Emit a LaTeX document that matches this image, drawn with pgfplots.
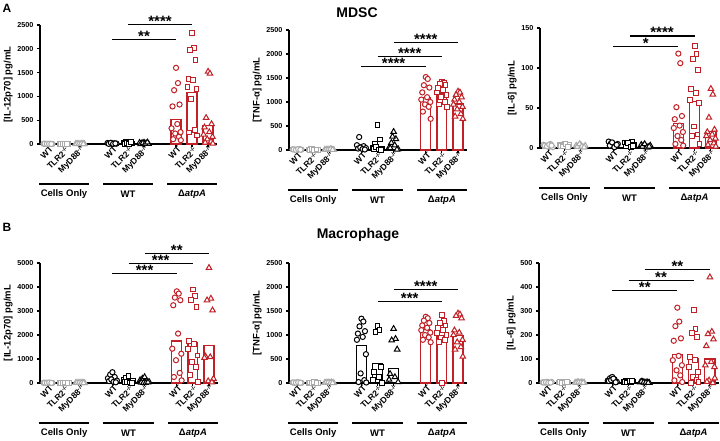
\documentclass[border=0pt]{standalone}
\usepackage{fontspec}
\setmainfont{Liberation Sans}
\usepackage{pgfplots}
\pgfplotsset{compat=1.18}
\definecolor{cgray}{RGB}{170,170,170}
\definecolor{cred}{RGB}{192,32,38}
\newcommand{\fs}[1]{\fontsize{#1}{#1}\selectfont\bfseries}

\pgfplotsset{
  panel/.style={
    scale only axis, width=178pt, height=120pt,
    axis x line=bottom, axis y line=left,
    axis line style={-, line width=1.1pt},
    xmin=-0.5, xmax=10.56, ymin=0,
    clip=false,
    xtick={0,1,2,4,5,6,8,9,10},
    xticklabels={WT,TLR2\textsuperscript{-/-},MyD88\textsuperscript{-/-},WT,TLR2\textsuperscript{-/-},MyD88\textsuperscript{-/-},WT,TLR2\textsuperscript{-/-},MyD88\textsuperscript{-/-}},
    x tick label style={rotate=45, anchor=east, font=\fs{8.5}, inner sep=1pt, yshift=-3pt, xshift=3pt},
    y tick label style={font=\fs{7.2}},
    /pgf/number format/assume math mode=true,
    /pgf/number format/1000 sep={},
    tick align=outside, major tick length=3pt,
    every tick/.style={black, line width=1.1pt},
    ylabel style={font=\fs{9.5}, yshift=-2pt},
  },
  gpt/.style={only marks, mark size=2.6pt, line width=1pt, mark options={solid, fill=white}},
  mc/.style={mark=*},
  ms/.style={mark=square*, mark size=2.4pt},
  mt/.style={mark=triangle*, mark size=3.2pt},
  gbar/.style={ybar, bar width=0.62, bar shift=0pt, fill=none, line width=1.2pt},
}
\newcommand{\col}[2]{\addplot[gpt, #1] coordinates {#2};}
\newcommand{\sig}[4]{\draw[line width=1.2pt] (axis cs:#1,#3) -- node[above, inner sep=0pt, yshift=-2.5pt, font=\fs{15}] {#4} (axis cs:#2,#3);}
\newcommand{\groups}{%
  \draw[line width=1.2pt] ([yshift=-40pt]axis cs:-0.56,0) -- ([yshift=-40pt]axis cs:2.56,0);
  \draw[line width=1.2pt] ([yshift=-40pt]axis cs:3.44,0) -- ([yshift=-40pt]axis cs:6.56,0);
  \draw[line width=1.2pt] ([yshift=-40pt]axis cs:7.44,0) -- ([yshift=-40pt]axis cs:10.56,0);
  \node[font=\fs{9.5}] at ([yshift=-50pt]axis cs:1,0) {Cells Only};
  \node[font=\fs{9.5}] at ([yshift=-50pt]axis cs:5,0) {WT};
  \node[font=\fs{9.5}] at ([yshift=-50pt]axis cs:9,0) {Δ\textit{atpA}};
}

\begin{document}
\begin{tikzpicture}

% ---------- A: MDSC, IL-12p70
\begin{axis}[panel, at={(40pt,296pt)}, anchor=south west, height=119pt, width=177pt,
  ymax=2500, ytick={0,500,...,2500}, ylabel={[IL-12p70] pg/mL}]
\addplot[gbar, draw=cgray] coordinates {(0,3)(1,3)(2,3)};
\addplot[gbar, draw=black] coordinates {(4,12)(5,25)(6,17)};
\addplot[gbar, draw=cred] coordinates {(8,520)(9,1090)(10,390)};
\col{cgray,mc}{(-0.28,5)(-0.14,3)(0,2)(0.14,4)(0.28,1)(-0.21,6)(-0.07,2)(0.07,3)(0.21,0)}
\col{cgray,ms}{(0.72,4)(0.86,2)(1,5)(1.14,3)(1.28,1)(0.79,2)(0.93,6)(1.07,0)(1.21,3)}
\col{cgray,mt}{(1.72,3)(1.86,5)(2,2)(2.14,4)(2.28,1)(1.79,0)(1.93,3)(2.07,6)(2.21,2)}
\col{black,mc}{(3.72,20)(3.86,10)(4,5)(4.14,15)(4.28,8)(3.79,3)(3.93,25)(4.07,2)(4.21,12)}
\col{black,ms}{(4.72,30)(4.86,50)(5,20)(5.14,40)(5.28,10)(4.79,5)(4.93,15)(5.07,0)(5.21,45)}
\col{black,mt}{(5.72,25)(5.86,15)(6,30)(6.14,10)(6.28,5)(5.79,0)(5.93,20)(6.07,8)(6.21,35)}
\col{cred,mc}{(8,1600)(8.12,1280)(7.88,1130)(8.22,830)(7.78,790)(8.08,420)(7.72,330)(8.28,250)(7.95,220)(8.18,150)(7.82,100)(8.3,80)}
\col{cred,ms}{(9,2330)(9.12,2010)(8.88,1980)(9.22,1760)(8.78,1370)(9.08,1340)(8.72,1200)(9.28,1150)(8.95,940)(9.18,300)(8.82,240)(9.3,180)}
\col{cred,mt}{(10,1520)(10.12,1480)(9.88,550)(10.22,420)(9.78,350)(10.08,250)(9.72,200)(10.28,150)(9.95,100)(10.18,50)(9.82,30)(10.3,10)}
\sig{4}{8}{2200}{**}
\sig{5}{9}{2510}{****}
\groups
\end{axis}

% ---------- A: MDSC, TNF
\begin{axis}[panel, at={(289pt,290pt)}, anchor=south west,
  ymax=2500, ytick={0,500,...,2500}, ylabel={[TNF-α] pg/mL}]
\addplot[gbar, draw=cgray] coordinates {(0,8)(1,8)(2,8)};
\addplot[gbar, draw=black] coordinates {(4,80)(5,80)(6,70)};
\addplot[gbar, draw=cred] coordinates {(8,1090)(9,1170)(10,960)};
\col{cgray,mc}{(-0.28,15)(-0.14,10)(0,5)(0.14,20)(0.28,8)(-0.21,12)(-0.07,3)(0.07,18)(0.21,6)}
\col{cgray,ms}{(0.72,10)(0.86,15)(1,5)(1.14,12)(1.28,3)(0.79,8)(0.93,18)(1.07,6)(1.21,10)}
\col{cgray,mt}{(1.72,8)(1.86,12)(2,4)(2.14,15)(2.28,6)(1.79,3)(1.93,10)(2.07,18)(2.21,5)}
\col{black,mc}{(3.72,100)(3.86,270)(4,60)(4.14,80)(4.28,40)(3.79,30)(3.93,50)(4.07,20)(4.21,10)}
\col{black,ms}{(4.72,40)(4.86,130)(5,520)(5.14,220)(5.28,30)(4.79,20)(4.93,60)(5.07,10)(5.21,5)}
\col{black,mt}{(5.72,50)(5.86,150)(6,380)(6.14,230)(6.28,20)(5.79,40)(5.93,280)(6.07,100)(6.21,10)}
\col{cred,mc}{(8,1520)(8.12,1480)(7.88,1350)(8.22,1300)(7.78,1200)(8.08,1100)(7.72,1050)(8.28,1000)(7.95,950)(8.18,900)(7.82,800)(8.3,650)}
\col{cred,ms}{(9,1420)(9.12,1400)(8.88,1380)(9.22,1350)(8.78,1300)(9.08,1250)(8.72,1200)(9.28,1150)(8.95,1100)(9.18,1000)(8.82,950)(9.3,900)}
\col{cred,mt}{(10,1220)(10.12,1200)(9.88,1150)(10.22,1100)(9.78,1050)(10.08,1000)(9.72,950)(10.28,900)(9.95,850)(10.18,750)(9.82,700)(10.3,650)}
\sig{4}{8}{1733}{****}
\sig{5}{9}{1956}{****}
\sig{6}{10}{2234}{****}
\groups
\end{axis}

% ---------- A: MDSC, IL-6
\begin{axis}[panel, at={(540pt,292pt)}, anchor=south west, width=180pt,
  ymax=150, ytick={0,50,100,150}, ylabel={[IL-6] pg/mL}]
\addplot[gbar, draw=cgray] coordinates {(0,3)(1,3)(2,2.5)};
\addplot[gbar, draw=black] coordinates {(4,4)(5,4)(6,2.5)};
\addplot[gbar, draw=cred] coordinates {(8,31)(9,58)(10,21)};
\col{cgray,mc}{(-0.28,4)(-0.14,3)(0,2)(0.14,5)(0.28,1)(-0.21,3)(-0.07,2)(0.07,4)(0.21,3)}
\col{cgray,ms}{(0.72,4)(0.86,3)(1,5)(1.14,2)(1.28,4)(0.79,3)(0.93,2)(1.07,5)(1.21,1)}
\col{cgray,mt}{(1.72,3)(1.86,2)(2,4)(2.14,1)(2.28,3)(1.79,2)(1.93,5)(2.07,2)(2.21,1)}
\col{black,mc}{(3.72,8)(3.86,6)(4,4)(4.14,2)(4.28,5)(3.79,3)(3.93,7)(4.07,1)(4.21,4)}
\col{black,ms}{(4.72,7)(4.86,5)(5,3)(5.14,8)(5.28,4)(4.79,2)(4.93,6)(5.07,1)(5.21,3)}
\col{black,mt}{(5.72,4)(5.86,3)(6,2)(6.14,1)(6.28,3)(5.79,2)(5.93,5)(6.07,1)(6.21,2)}
\col{cred,mc}{(8,118)(8.12,106)(7.88,51)(8.22,40)(7.78,36)(8.08,28)(7.72,25)(8.28,20)(7.95,15)(8.18,10)(7.82,5)(8.3,3)}
\col{cred,ms}{(9,128)(9.12,118)(8.88,111)(9.22,98)(8.78,74)(9.08,69)(8.72,60)(9.28,56)(8.95,27)(9.18,17)(8.82,15)(9.3,5)}
\col{cred,mt}{(10,74)(10.12,67)(9.88,38)(10.22,23)(9.78,20)(10.08,17)(9.72,15)(10.28,12)(9.95,10)(10.18,6)(9.82,4)(10.3,2)}
\sig{4}{8}{127}{*}
\sig{5}{9}{140}{****}
\groups
\end{axis}

% ---------- B: Macrophage, IL-12p70
\begin{axis}[panel, at={(40pt,57pt)}, anchor=south west,
  ymax=5000, ytick={0,1000,...,5000}, ylabel={[IL-12p70] pg/mL}]
\addplot[gbar, draw=cgray] coordinates {(0,8)(1,8)(2,8)};
\addplot[gbar, draw=black] coordinates {(4,180)(5,120)(6,90)};
\addplot[gbar, draw=cred] coordinates {(8,1750)(9,1690)(10,1570)};
\col{cgray,mc}{(-0.28,10)(-0.14,5)(0,15)(0.14,8)(0.28,3)(-0.21,12)(-0.07,6)(0.07,20)(0.21,4)}
\col{cgray,ms}{(0.72,8)(0.86,12)(1,5)(1.14,15)(1.28,3)(0.79,10)(0.93,6)(1.07,18)(1.21,4)}
\col{cgray,mt}{(1.72,6)(1.86,10)(2,4)(2.14,12)(2.28,3)(1.79,8)(1.93,15)(2.07,5)(2.21,2)}
\col{black,mc}{(3.72,200)(3.86,350)(4,450)(4.14,250)(4.28,100)(3.79,80)(3.93,150)(4.07,50)(4.21,30)}
\col{black,ms}{(4.72,150)(4.86,220)(5,280)(5.14,100)(5.28,80)(4.79,50)(4.93,30)(5.07,20)(5.21,10)}
\col{black,mt}{(5.72,120)(5.86,180)(6,250)(6.14,80)(6.28,50)(5.79,20)(5.93,10)(6.07,5)(6.21,30)}
\col{cred,mc}{(8,3820)(8.12,3725)(7.88,3560)(8.22,3450)(7.78,3240)(8.08,2060)(7.72,1430)(8.28,1220)(7.95,950)(8.18,420)(7.82,250)(8.3,110)}
\col{cred,ms}{(9,3900)(9.12,3610)(8.88,3450)(9.22,3170)(8.78,1740)(9.08,1640)(8.72,1430)(9.28,1150)(8.95,880)(9.18,670)(8.82,320)(9.3,40)}
\col{cred,mt}{(10,4800)(10.12,3520)(9.88,3450)(10.22,3030)(9.78,1110)(10.08,1080)(9.72,1050)(10.28,180)(9.95,80)(10.18,30)}
\sig{4}{8}{4560}{***}
\sig{5}{9}{4980}{***}
\sig{6}{10}{5390}{**}
\groups
\end{axis}

% ---------- B: Macrophage, TNF
\begin{axis}[panel, at={(289pt,57pt)}, anchor=south west,
  ymax=2500, ytick={0,500,...,2500}, ylabel={[TNF-α] pg/mL}]
\addplot[gbar, draw=cgray] coordinates {(0,8)(1,8)(2,8)};
\addplot[gbar, draw=black] coordinates {(4,780)(5,400)(6,310)};
\addplot[gbar, draw=cred] coordinates {(8,1120)(9,1060)(10,990)};
\col{cgray,mc}{(-0.28,10)(-0.14,5)(0,15)(0.14,8)(0.28,3)(-0.21,12)(-0.07,6)(0.07,14)(0.21,4)}
\col{cgray,ms}{(0.72,8)(0.86,12)(1,5)(1.14,15)(1.28,3)(0.79,10)(0.93,6)(1.07,14)(1.21,4)}
\col{cgray,mt}{(1.72,6)(1.86,10)(2,4)(2.14,12)(2.28,3)(1.79,8)(1.93,15)(2.07,5)(2.21,2)}
\col{black,mc}{(4,1340)(4.12,1280)(3.88,1180)(4.22,1080)(3.78,1030)(4.08,960)(3.72,900)(4.28,600)(3.95,200)(4.18,60)(3.82,20)(4.3,10)}
\col{black,ms}{(5,1180)(5.12,1100)(4.88,1060)(5.22,330)(4.78,230)(5.08,125)(4.72,56)(5.28,0)}
\col{black,mt}{(6,1130)(6.12,920)(5.88,890)(6.22,700)(5.78,190)(6.08,125)(5.72,70)(6.28,20)}
\col{cred,mc}{(8,1380)(8.12,1350)(7.88,1300)(8.22,1250)(7.78,1200)(8.08,1150)(7.72,1100)(8.28,1050)(7.95,1000)(8.18,950)(7.82,900)(8.3,850)}
\col{cred,ms}{(9,1420)(9.12,1300)(8.88,1250)(9.22,1200)(8.78,1150)(9.08,1100)(8.72,1050)(9.28,1000)(8.95,950)(9.18,900)(8.82,850)(9,0)}
\col{cred,mt}{(10,1450)(10.12,1430)(9.88,1400)(10.22,1350)(9.78,1100)(10.08,1050)(9.72,1000)(10.28,900)(9.95,850)(10.18,750)(9.82,700)(10.3,550)}
\sig{5}{9}{1700}{***}
\sig{6}{10}{1943}{****}
\groups
\end{axis}

% ---------- B: Macrophage, IL-6
\begin{axis}[panel, at={(539pt,57pt)}, anchor=south west, width=180pt,
  ymax=500, ytick={0,100,...,500}, ylabel={[IL-6] pg/mL}]
\addplot[gbar, draw=cgray] coordinates {(0,2)(1,2)(2,2)};
\addplot[gbar, draw=black] coordinates {(4,12)(5,6)(6,3)};
\addplot[gbar, draw=cred] coordinates {(8,120)(9,100)(10,100)};
\col{cgray,mc}{(-0.28,3)(-0.14,2)(0,5)(0.14,1)(0.28,4)(-0.21,2)(-0.07,3)(0.07,1)(0.21,2)}
\col{cgray,ms}{(0.72,2)(0.86,4)(1,1)(1.14,3)(1.28,2)(0.79,5)(0.93,1)(1.07,2)(1.21,3)}
\col{cgray,mt}{(1.72,2)(1.86,3)(2,1)(2.14,4)(2.28,2)(1.79,1)(1.93,3)(2.07,2)(2.21,1)}
\col{black,mc}{(3.72,10)(3.86,20)(4,25)(4.14,15)(4.28,5)(3.79,8)(3.93,12)(4.07,18)(4.21,3)}
\col{black,ms}{(4.72,5)(4.86,8)(5,10)(5.14,3)(5.28,6)(4.79,4)(4.93,2)(5.07,9)(5.21,7)}
\col{black,mt}{(5.72,3)(5.86,5)(6,2)(6.14,4)(6.28,1)(5.79,6)(5.93,3)(6.07,2)(6.21,1)}
\col{cred,mc}{(8,314)(8.12,256)(7.88,237)(8.22,186)(7.78,176)(8.08,113)(7.72,95)(8.28,74)(7.95,53)(8.18,32)(7.82,11)(8.3,4)}
\col{cred,ms}{(9,305)(9.12,224)(8.88,207)(9.22,193)(8.78,109)(9.08,95)(8.72,67)(9.28,46)(8.95,25)(9.18,11)(8.82,0)(9.3,5)}
\col{cred,mt}{(10,441)(10.12,214)(9.88,204)(10.22,182)(9.78,154)(10.08,88)(9.72,74)(10.28,67)(9.95,11)(10.18,0)(9.82,5)(10.3,20)}
\sig{4}{8}{386}{**}
\sig{5}{9}{426}{**}
\sig{6}{10}{472}{**}
\groups
\end{axis}

\node[font=\fs{12}] at (7pt,432pt) {A};
\node[font=\fs{12}] at (7pt,213pt) {B};
\node[font=\fs{14}] at (357pt,427pt) {MDSC};
\node[font=\fs{14}] at (358pt,205pt) {Macrophage};

\pgfresetboundingbox
\path (0pt,0pt) rectangle (720pt,440pt);
\end{tikzpicture}
\end{document}
